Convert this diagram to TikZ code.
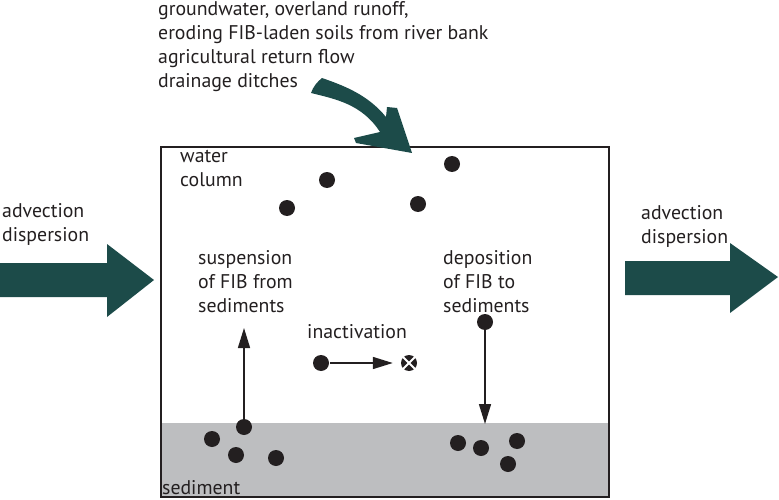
\documentclass[tikz,border=0pt]{standalone}
\usepackage{fontspec}
\setmainfont{PT Sans}
\usepackage{tikz}
\usetikzlibrary{arrows.meta,positioning,calc}
\definecolor{flowteal}{HTML}{1C4B49}
\definecolor{sedgray}{HTML}{BDBEC0}
\definecolor{fibblack}{HTML}{231F20}

\begin{document}
\begin{tikzpicture}[x=1pt,y=-1pt,
   fib/.style={circle,fill=fibblack,minimum size=16pt,inner sep=0pt},
   lbl/.style={anchor=base west,inner sep=0pt,align=left,font=\fontsize{19.8}{24}\selectfont,text=fibblack},
   move/.style={draw=fibblack,line width=1.5pt,-{Triangle[length=20pt,width=12pt]}}]
   \useasboundingbox (0,0) rectangle (779,500);

   % water column and sediment layer
   \fill[sedgray] (161,423) rectangle (609,497);
   \draw[fibblack,line width=1.2pt] (161,147) rectangle (609,497);

   % advection arrows
   \fill[flowteal] (0,263) -- (107,263) -- (107,244) -- (154,280) -- (107,317) -- (107,297) -- (0,297) -- cycle;
   \fill[flowteal] (625,261) -- (730,261) -- (730,243) -- (778,277) -- (730,313) -- (730,295) -- (625,295) -- cycle;

   % inflow arrow
   \fill[flowteal] (322,78) .. controls (345,86) and (368,95) .. (386,117)
      -- (387,107) -- (397,108) -- (412,153) -- (356,143) -- (354,138) -- (380,132)
      .. controls (362,104) and (335,99) .. (311,93)
      .. controls (313,87) and (317,82) .. (322,78) -- cycle;

   % labels (anchored at the baseline of their last line)
   \node[lbl] (src) at (158,88) {groundwater, overland runoff,\\eroding FIB-laden soils from river bank\\agricultural return flow\\drainage ditches};
   \node[lbl] (advin) at (2,241) {advection\\dispersion};
   \node[lbl] (advout) at (641,243) {advection\\dispersion};
   \node[lbl] (wc) at (180,186) {water\\column};
   \node[lbl] (susp) at (198,312) {suspension\\of FIB from\\sediments};
   \node[lbl] (depo) at (443,312) {deposition\\of FIB to\\sediments};
   \node[lbl] (inact) at (307,338) {inactivation};
   \node[lbl] (sed) at (162,494) {sediment};

   % FIB in water column
   \node[fib] (w1) at (327,180) {};
   \node[fib] (w2) at (287,208) {};
   \node[fib] (w3) at (452,164) {};
   \node[fib] (w4) at (418,204) {};
   \node[fib] (d1) at (485,322) {};
   \node[fib] (i1) at (321,363) {};
   \node[fib] (ix) at (409,363) {};
   \draw[white,line width=2pt] (ix.north west) -- (ix.south east) (ix.north east) -- (ix.south west);

   % FIB in sediment
   \node[fib] (s1) at (244,427) {};
   \node[fib] (s2) at (212,439) {};
   \node[fib] (s3) at (236,455) {};
   \node[fib] (s4) at (276,458) {};
   \node[fib] (s5) at (458,443) {};
   \node[fib] (s6) at (481,448) {};
   \node[fib] (s7) at (517,441) {};
   \node[fib] (s8) at (508,464) {};

   \coordinate (suspend) at (244,328);
   \coordinate (settle) at (485,424);
   \draw[move] (s1) -- (suspend);
   \draw[move] (d1) -- (settle);
   \draw[move,shorten <=1pt,shorten >=8pt] (i1) -- (ix);
\end{tikzpicture}
\end{document}
